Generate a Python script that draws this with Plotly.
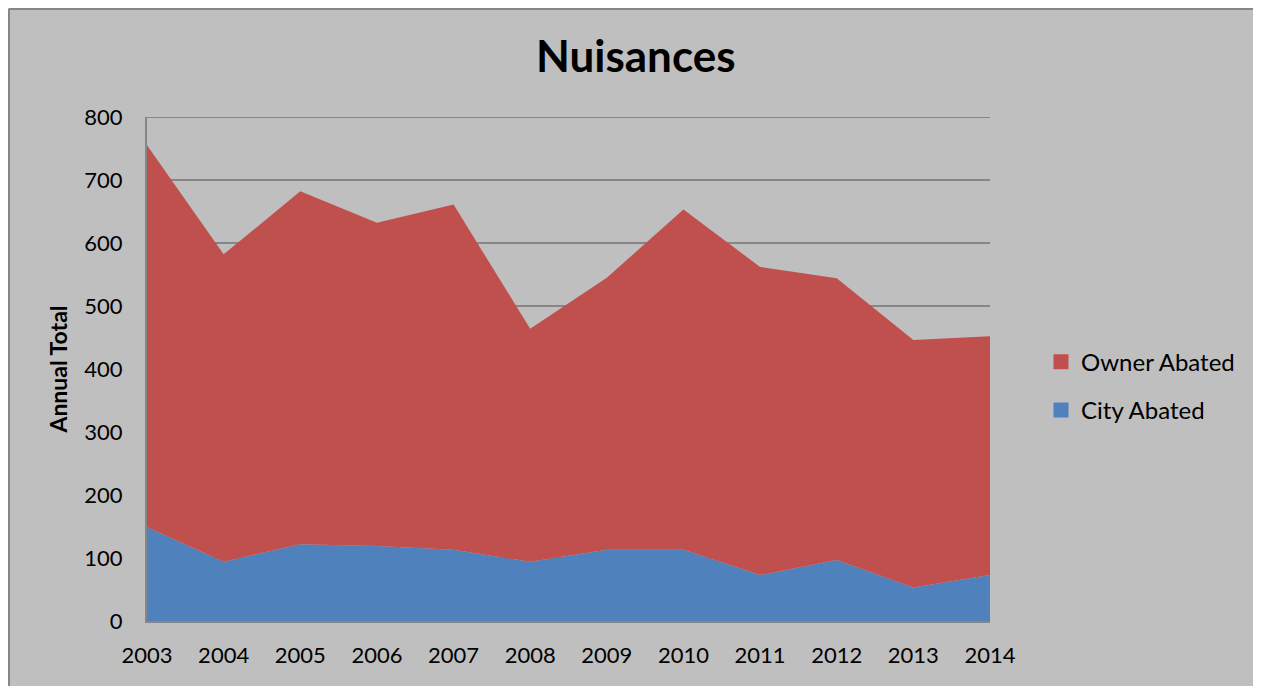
import plotly.graph_objects as go

years = [2003, 2004, 2005, 2006, 2007, 2008, 2009, 2010, 2011, 2012, 2013, 2014]
city_abated = [149, 94, 122, 119, 113, 94, 113, 113, 73, 97, 53, 73]
owner_abated = [606, 488, 560, 513, 548, 370, 432, 540, 489, 447, 393, 379]
y_ticks = [0, 100, 200, 300, 400, 500, 600, 700, 800]

FONT = "Lato"
CITY_COLOR = "#4F81BD"
OWNER_COLOR = "#C0504D"
GRID = "#868686"

fig = go.Figure()
fig.add_trace(go.Scatter(x=years, y=city_abated, name="City Abated", stackgroup="one",
                         mode="none", fillcolor=CITY_COLOR, line=dict(width=0), showlegend=False))
fig.add_trace(go.Scatter(x=years, y=owner_abated, name="Owner Abated", stackgroup="one",
                         mode="none", fillcolor=OWNER_COLOR, line=dict(width=0), showlegend=False))
# legend entries (square swatches)
fig.add_trace(go.Scatter(x=[None], y=[None], mode="markers", name="Owner Abated", legendgroup="o",
                         marker=dict(symbol="square", size=15, color=OWNER_COLOR)))
fig.add_trace(go.Scatter(x=[None], y=[None], mode="markers", name="City Abated", legendgroup="c",
                         marker=dict(symbol="square", size=15, color=CITY_COLOR)))

W, H = 1253, 678
L, R, T, B = 139, 271, 109, 65
PW, PH = W - L - R, H - T - B

fig.update_layout(
    width=W, height=H,
    margin=dict(l=L, r=R, t=T, b=B),
    paper_bgcolor="#BFBFBF", plot_bgcolor="#BFBFBF",
    font=dict(family=FONT, size=22, color="black"),
    title=dict(text="<b>Nuisances</b>", x=0.501, xref="container", xanchor="center",
               y=0.9277, yref="container", yanchor="middle",
               font=dict(family=FONT, size=44, color="black")),
    showlegend=True,
    legend=dict(x=1.0605, xanchor="left", y=0.466, yanchor="middle", traceorder="grouped",
                bgcolor="rgba(0,0,0,0)", font=dict(size=24), itemwidth=30, tracegroupgap=14),
    xaxis=dict(range=[2003, 2014], tickvals=years, ticktext=[str(y) for y in years],
               showgrid=False, zeroline=False, showline=True, linecolor=GRID, linewidth=2,
               ticks="", ticklabelstandoff=14, tickfont=dict(size=22)),
    yaxis=dict(range=[0, 800], tickvals=y_ticks, showgrid=True, gridcolor=GRID, gridwidth=2,
               zeroline=False, showline=True, linecolor=GRID, linewidth=2,
               ticks="", ticklabelstandoff=18, tickfont=dict(size=22),
               title=dict(text="<b>Annual Total</b>", font=dict(size=23), standoff=10)),
)
# top gridline at 800
fig.add_shape(type="line", xref="paper", yref="y", x0=0, x1=1, y0=800, y1=800,
              line=dict(color=GRID, width=2), layer="below")
# chart border (top and left edges only; the rest lies outside the picture)
bx = -(L - 1) / PW
by = 1 + (T - 1) / PH
fig.add_shape(type="line", xref="paper", yref="paper", x0=bx, x1=1 + R / PW + 0.1, y0=by, y1=by,
              line=dict(color=GRID, width=2), layer="below")
fig.add_shape(type="line", xref="paper", yref="paper", x0=bx, x1=bx, y0=-0.3, y1=by,
              line=dict(color=GRID, width=2), layer="below")
fig.write_html("out.html")
